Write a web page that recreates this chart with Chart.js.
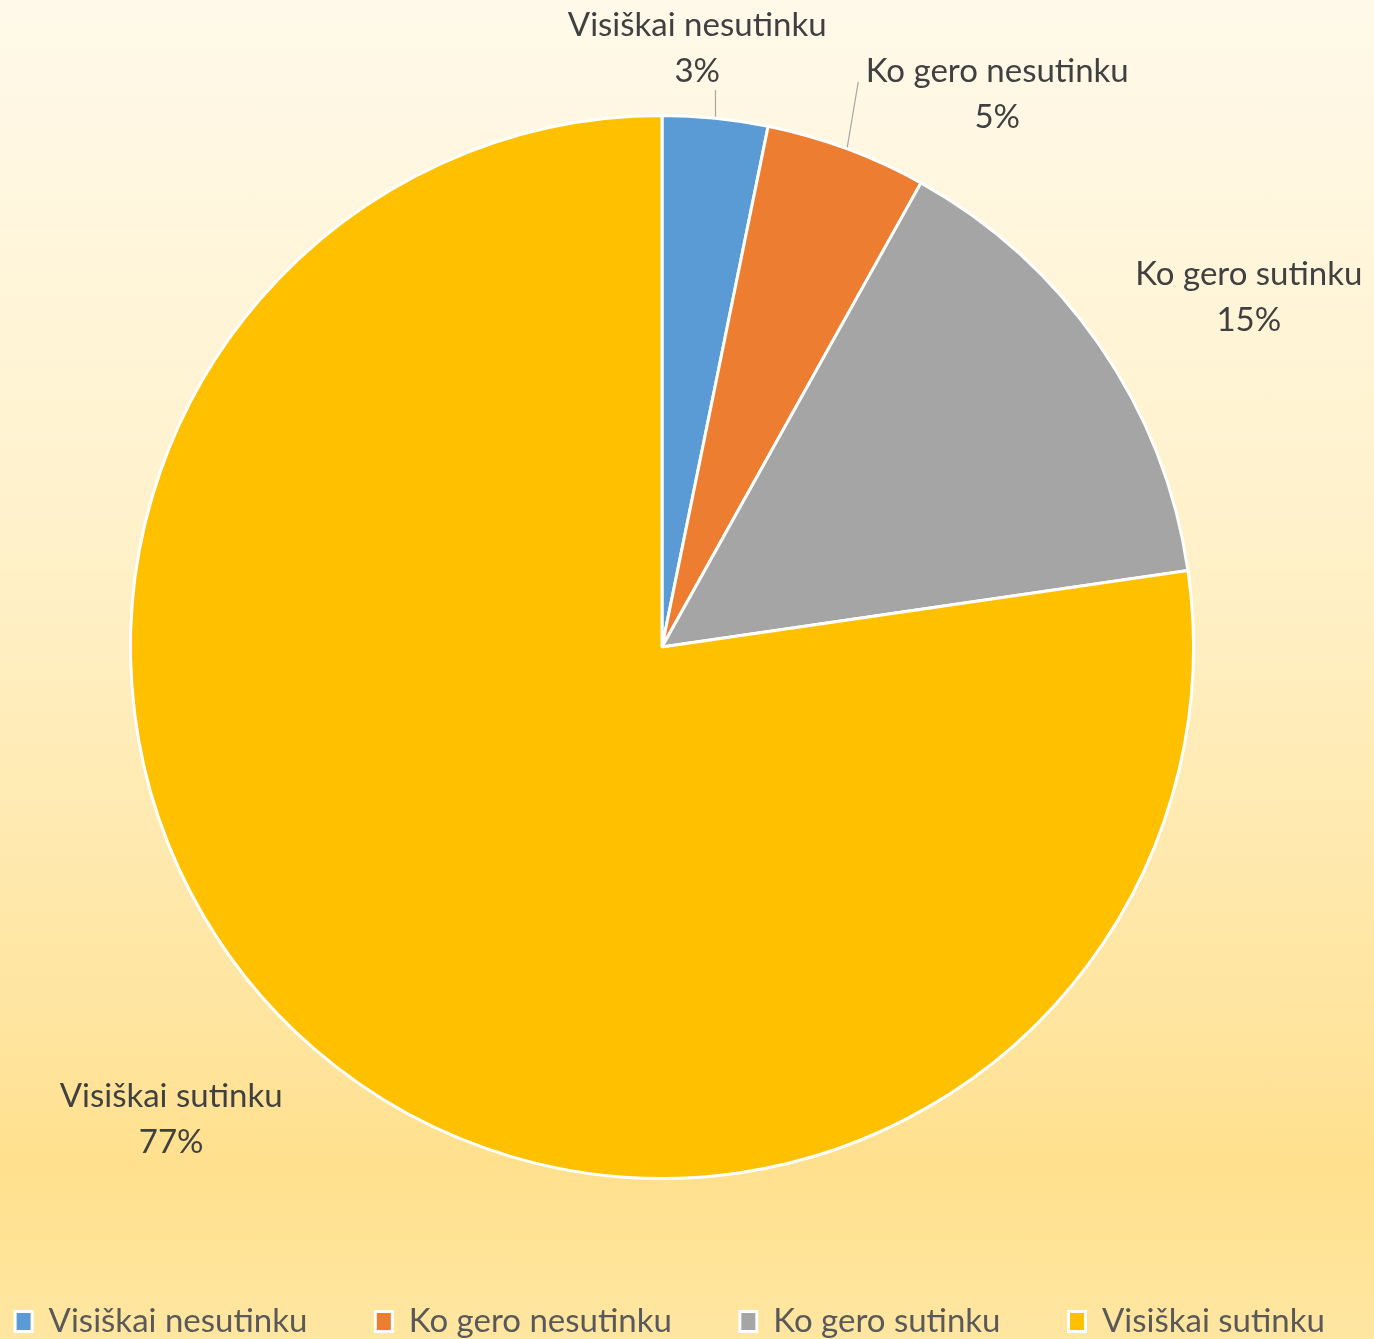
<!DOCTYPE html>
<html><head><meta charset="utf-8">
<script src="https://cdn.jsdelivr.net/npm/chart.js@4/dist/chart.umd.min.js"></script>
<style>
html,body{margin:0;padding:0;}
body{width:1374px;height:1339px;overflow:hidden;background:linear-gradient(to bottom,#FFF9EA 0%,#FFF1CA 40%,#FFE39A 80%,#FFE08D 87%,#FFE6A1 100%);}
#wrap{position:relative;width:1374px;height:1339px;}
</style></head><body>
<div id="wrap"><canvas id="c" width="1374" height="1339"></canvas></div>
<script>
// ---- data ----
const categories = ['Visiškai nesutinku', 'Ko gero nesutinku', 'Ko gero sutinku', 'Visiškai sutinku'];
const shares = [3.2, 4.9, 14.6, 77.3];
const sliceColors = ['#5B9BD5', '#ED7D31', '#A5A5A5', '#FFC000'];

// ---- layout / style settings ----
const pieBox = {left: 129, right: 1195, top: 114, bottom: 1180};
// label centres relative to pie centre, in units of the pie radius
const labelPlacement = [
  {dx: 0.066, dy: -1.124, leader: {mode: 'vertical', endDy: 42}},
  {dx: 0.629, dy: -1.036, leader: {mode: 'free', endDx: -139, endDy: -13}},
  {dx: 1.101, dy: -0.656, leader: null},
  {dx: -0.921, dy: 0.886, leader: null}
];
const FONT = 'Lato, "Open Sans", sans-serif';
const LABEL_SIZE = 33;

const areaPlugin = {
  id: 'areaPlugin',
  afterLayout(chart) {
    Object.assign(chart.chartArea, {
      left: pieBox.left, right: pieBox.right, top: pieBox.top, bottom: pieBox.bottom,
      width: pieBox.right - pieBox.left, height: pieBox.bottom - pieBox.top
    });
  }
};

const labelPlugin = {
  id: 'labelPlugin',
  afterDatasetsDraw(chart) {
    const ctx = chart.ctx;
    const meta = chart.getDatasetMeta(0);
    const data = chart.data.datasets[0].data;
    const total = data.reduce((a, b) => a + b, 0);
    ctx.save();
    meta.data.forEach((arc, i) => {
      const p = arc.getProps(['x', 'y', 'startAngle', 'endAngle', 'outerRadius'], true);
      const R = p.outerRadius + 1.5;
      const place = labelPlacement[i];
      const lx = p.x + place.dx * R;
      const ly = p.y + place.dy * R;
      const mid = (p.startAngle + p.endAngle) / 2;
      if (place.leader) {
        const sx = p.x + Math.cos(mid) * R;
        const sy = p.y + Math.sin(mid) * R;
        let ex, ey;
        if (place.leader.mode === 'vertical') { ex = sx; ey = ly + place.leader.endDy; }
        else { ex = lx + place.leader.endDx; ey = ly + place.leader.endDy; }
        ctx.strokeStyle = '#A6A6A6';
        ctx.lineWidth = 1.2;
        ctx.beginPath();
        ctx.moveTo(sx, sy);
        ctx.lineTo(ex, ey);
        ctx.stroke();
      }
      ctx.fillStyle = '#404040';
      ctx.font = LABEL_SIZE + 'px ' + FONT;
      ctx.textAlign = 'center';
      ctx.textBaseline = 'middle';
      ctx.fillText(chart.data.labels[i], lx, ly - 23);
      ctx.fillText(Math.round(data[i] / total * 100) + '%', lx, ly + 23);
    });
    ctx.restore();
  }
};

new Chart(document.getElementById('c'), {
  type: 'pie',
  data: {
    labels: categories,
    datasets: [{
      data: shares,
      backgroundColor: sliceColors,
      borderColor: '#FFFFFF',
      borderWidth: 3,
      clip: false
    }]
  },
  options: {
    responsive: false,
    animation: false,
    layout: {padding: {left: -117, right: -83, top: 0, bottom: -9}},
    plugins: {
      tooltip: {enabled: false},
      legend: {
        position: 'bottom',
        labels: {
          font: {family: FONT, size: LABEL_SIZE, lineHeight: 0.62},
          color: '#595959',
          boxWidth: 17,
          boxHeight: 20,
          padding: 68
        }
      }
    }
  },
  plugins: [areaPlugin, labelPlugin]
});
</script>
</body></html>
